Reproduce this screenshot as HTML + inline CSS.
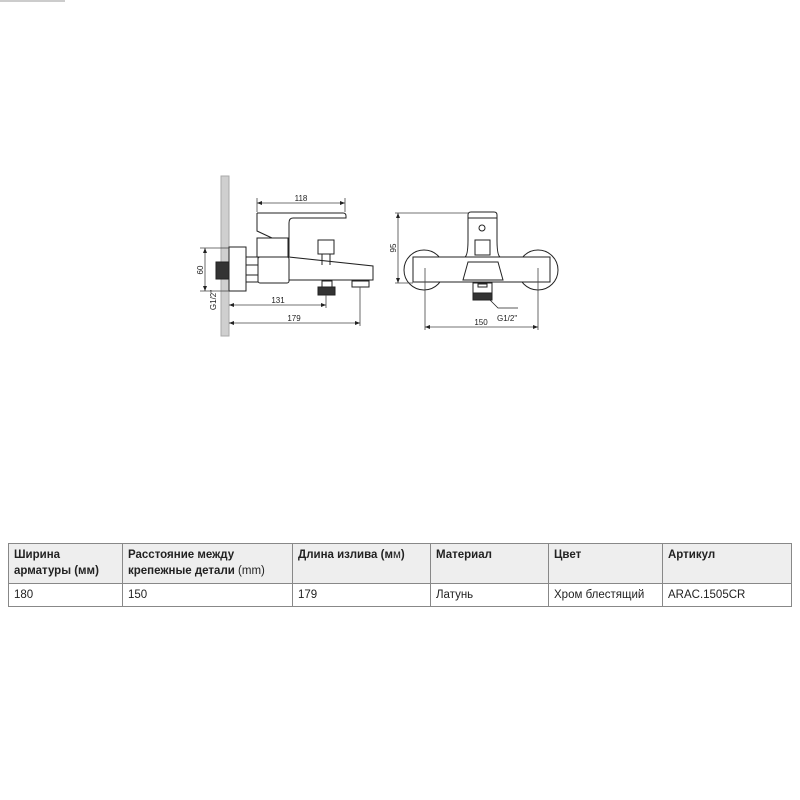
<!DOCTYPE html>
<html><head><meta charset="utf-8"><style>
body{margin:0;width:800px;height:800px;background:#fff;position:relative;overflow:hidden;font-family:"Liberation Sans",sans-serif}
svg{position:absolute;left:0;top:0}
table{position:absolute;left:8px;top:543px;width:784px;border-collapse:collapse;font-family:"Liberation Sans","Noto Sans CJK SC",sans-serif;font-size:11.5px;color:#222}
td{border:1px solid #888;padding:3px 5px;vertical-align:top}
tr.h td{background:#eeeeee;font-weight:bold;height:33px;line-height:16px}
tr.r td{height:16px;line-height:16px}
.n{font-weight:normal}
</style></head><body>
<svg width="800" height="800" viewBox="0 0 800 800" font-family="Liberation Sans, sans-serif" font-size="8" fill="none" stroke="#222" stroke-width="1">
<line x1="0" y1="1" x2="65" y2="1" stroke="#999"/>
<!-- left view -->
<rect x="221" y="176" width="8" height="160" fill="#cfcfcf" stroke="#aaa"/>
<rect x="229" y="247" width="17" height="44"/>
<rect x="216" y="262" width="13" height="17" fill="#333"/>
<path d="M246 257 h12 v25 h-12 z M246 265 h12 M246 275 h12"/>
<rect x="258" y="257" width="31" height="26" rx="2"/>
<rect x="257" y="238" width="31" height="19"/>
<path d="M257 213 H343 Q346 213 346 216 V218 H293 Q289 218 289 223 V257 L373 266 V280 H289"/>
<path d="M257 213 V231 L272 238"/>
<rect x="318" y="240" width="16" height="14"/>
<path d="M322 254 v11 M330 254 v11"/>
<rect x="322" y="281" width="10" height="6"/>
<rect x="318" y="287" width="17" height="8" fill="#333"/>
<rect x="352" y="281" width="17" height="6"/>
<g stroke="#444" stroke-width="0.8">
<line x1="257" y1="198" x2="257" y2="212"/><line x1="345" y1="198" x2="345" y2="212"/>
<line x1="257" y1="203" x2="345" y2="203"/>
<line x1="200" y1="248" x2="229" y2="248"/><line x1="200" y1="291" x2="229" y2="291"/>
<line x1="205" y1="248" x2="205" y2="291"/>
<line x1="229" y1="305" x2="326" y2="305"/><line x1="326" y1="295" x2="326" y2="308"/>
<line x1="229" y1="323" x2="360" y2="323"/><line x1="360" y1="287" x2="360" y2="326"/>
</g>
<g fill="#222" stroke="none">
<path d="M257 203 l5 -2 v4z M345 203 l-5 -2 v4z M205 248 l-2 5 h4z M205 291 l-2 -5 h4z M229 305 l5 -2 v4z M326 305 l-5 -2 v4z M229 323 l5 -2 v4z M360 323 l-5 -2 v4z"/>
<text x="301" y="201" text-anchor="middle">118</text>
<text x="278" y="303" text-anchor="middle">131</text>
<text x="294" y="321" text-anchor="middle">179</text>
<text transform="translate(203,270) rotate(-90)" text-anchor="middle">60</text>
<text transform="translate(216,300) rotate(-90)" text-anchor="middle">G1/2"</text>
</g>
<!-- right view -->
<circle cx="424" cy="270" r="20"/>
<circle cx="538" cy="270" r="20"/>
<rect x="413" y="257" width="137" height="25" fill="#fff"/>
<path d="M468 240 V215 Q468 212 471 212 H494 Q497 212 497 215 V240 Q497 255 500 257 M468 240 Q468 255 465 257" fill="#fff"/>
<line x1="468" y1="218" x2="497" y2="218"/>
<circle cx="482" cy="228" r="3"/>
<rect x="475" y="240" width="15" height="15" fill="#fff"/>
<path d="M468 262 H498 L503 280 H463 Z" fill="#fff"/>
<rect x="473" y="283" width="19" height="10" fill="#fff"/>
<rect x="478" y="284" width="9" height="3"/>
<rect x="473" y="293" width="19" height="7" fill="#333"/>
<path d="M490 300 L498 308 H518" stroke-width="0.8"/>
<g stroke="#444" stroke-width="0.8">
<line x1="395" y1="213" x2="468" y2="213"/><line x1="395" y1="283" x2="413" y2="283"/>
<line x1="398" y1="213" x2="398" y2="283"/>
<line x1="425" y1="268" x2="425" y2="330"/><line x1="538" y1="268" x2="538" y2="330"/>
<line x1="425" y1="327" x2="538" y2="327"/>
</g>
<g fill="#222" stroke="none">
<path d="M398 213 l-2 5 h4z M398 283 l-2 -5 h4z M425 327 l5 -2 v4z M538 327 l-5 -2 v4z"/>
<text transform="translate(396,248) rotate(-90)" text-anchor="middle">95</text>
<text x="481" y="325" text-anchor="middle">150</text>
<text x="497" y="321">G1/2"</text>
</g>
</svg>
<table>
<tr class="h"><td style="width:103px">Ширина<br>арматуры (мм)</td><td style="width:159px">Расстояние между<br>крепежные детали <span class="n">(mm)</span></td><td style="width:127px">Длина излива (м<span class="n">м</span>)</td><td style="width:107px">Материал</td><td style="width:103px">Цвет</td><td>Артикул</td></tr>
<tr class="r"><td>180</td><td>150</td><td>179</td><td>Латунь</td><td>Хром блестящий</td><td>ARAC.1505CR</td></tr>
</table>
</body></html>
